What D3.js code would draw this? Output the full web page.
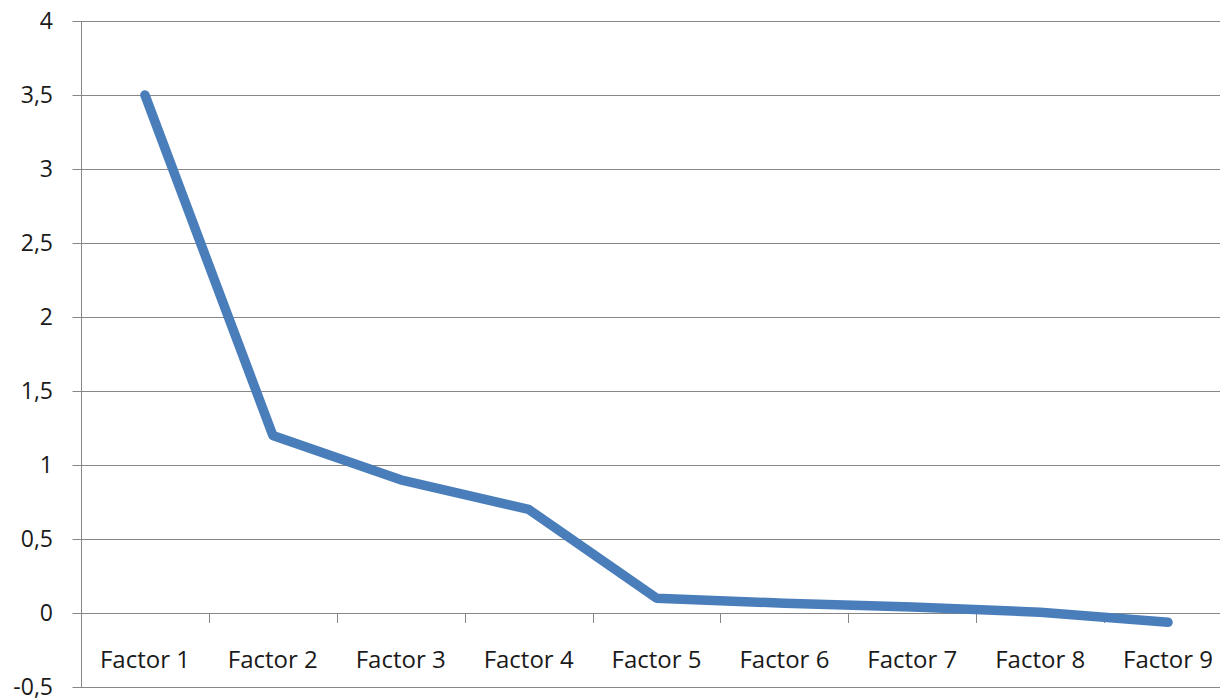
<!DOCTYPE html>
<html><head><meta charset="utf-8">
<script src="https://cdn.jsdelivr.net/npm/d3@7"></script>
<style>html,body{margin:0;padding:0;background:#fff;}svg{display:block;}</style>
</head><body>
<svg id="chart" width="1220" height="700"></svg>
<script>
const categories = ["Factor 1","Factor 2","Factor 3","Factor 4","Factor 5","Factor 6","Factor 7","Factor 8","Factor 9"];
const values = [3.5, 1.2, 0.9, 0.7, 0.1, 0.066, 0.04, 0.005, -0.063];
const yTicks = [-0.5, 0, 0.5, 1, 1.5, 2, 2.5, 3, 3.5, 4];

(function () {
const svg = d3.select("#chart");
const pLeft = 81, pRight = 1232, pTop = 21, pBottom = 687;
const x = d3.scaleBand().domain(categories).range([pLeft, pRight]);
const y = d3.scaleLinear().domain([-0.5, 4]).range([pBottom, pTop]);
const fmt = v => String(v).replace(".", ",");
const font = "'Open Sans', sans-serif";
const grey = "#868686";
const textCol = "#1a1a1a";

// gridlines
svg.append("g").selectAll("line").data(yTicks).join("line")
  .attr("x1", pLeft).attr("x2", pRight)
  .attr("y1", d => Math.round(y(d)) + 0.5).attr("y2", d => Math.round(y(d)) + 0.5)
  .attr("stroke", grey).attr("stroke-width", 1);

// y axis
const yAxis = d3.axisLeft(y).tickValues(yTicks).tickFormat(fmt).tickSize(9).tickPadding(19.5);
const gy = svg.append("g").attr("transform", `translate(${pLeft + 0.5},0)`).call(yAxis);
gy.select(".domain").attr("stroke", grey).attr("d", `M0,${pTop}V${pBottom}`);
gy.selectAll(".tick line").attr("stroke", grey);
gy.selectAll(".tick text").attr("font-family", font).attr("font-size", 23).attr("fill", textCol);

// x axis at zero
const xAxis = d3.axisBottom(x).tickSize(0).tickPadding(37.5);
const gx = svg.append("g").attr("transform", `translate(0,${Math.round(y(0)) + 0.5})`).call(xAxis);
gx.select(".domain").remove();
gx.selectAll(".tick text").attr("font-family", font).attr("font-size", 24).attr("fill", textCol);
// category boundary ticks
svg.append("g").selectAll("line").data(categories).join("line")
  .attr("x1", (d, i) => Math.round(pLeft + x.step() * (i + 1)) + 0.5)
  .attr("x2", (d, i) => Math.round(pLeft + x.step() * (i + 1)) + 0.5)
  .attr("y1", Math.round(y(0))).attr("y2", Math.round(y(0)) + 10)
  .attr("stroke", grey);

// line
const line = d3.line().x((d, i) => x(categories[i]) + x.bandwidth() / 2).y(d => y(d));
svg.append("path").datum(values).attr("d", line)
  .attr("fill", "none").attr("stroke", "#4a7ebb").attr("stroke-width", 9.5)
  .attr("stroke-linejoin", "round").attr("stroke-linecap", "round");
})();
</script>
</body></html>
